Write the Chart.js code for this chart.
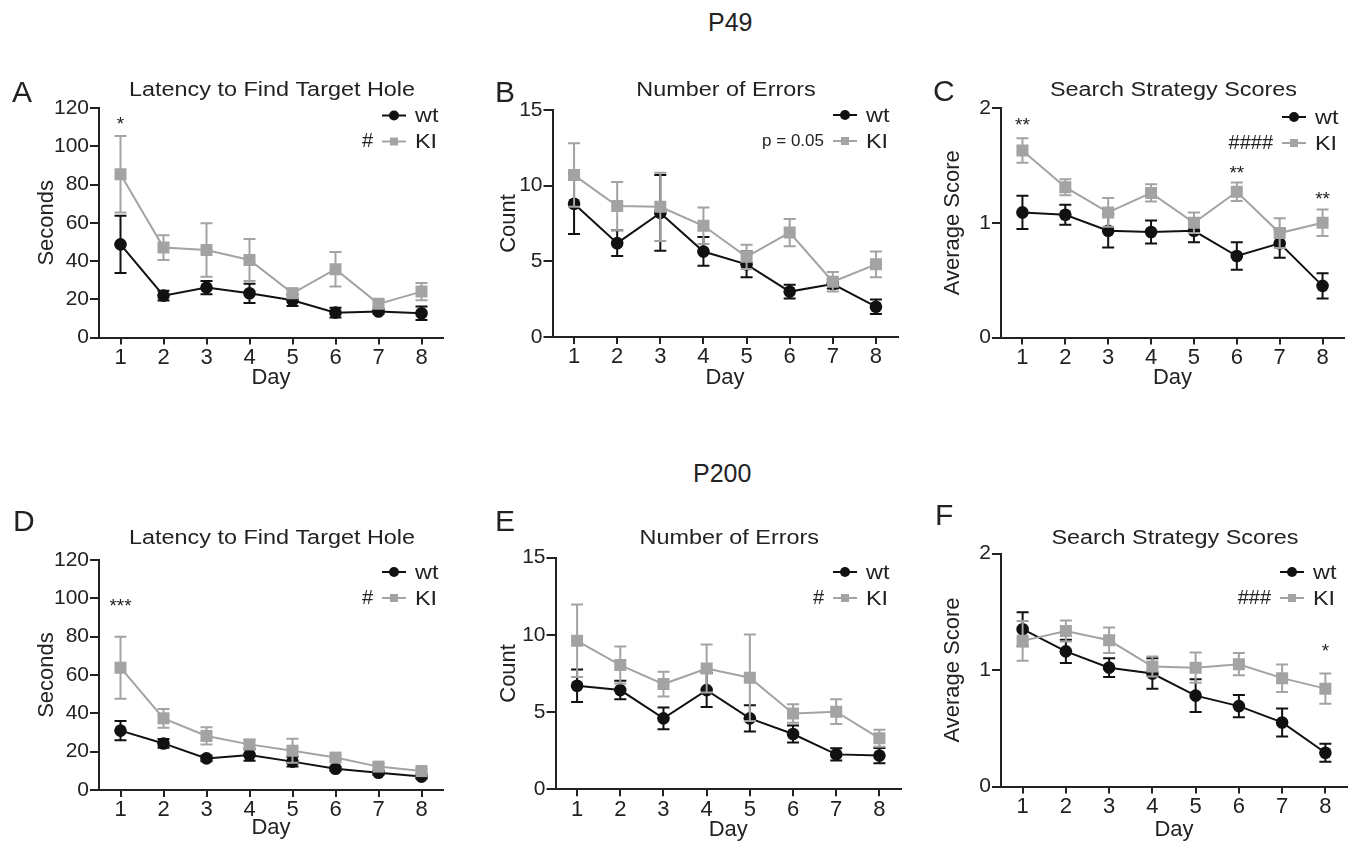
<!DOCTYPE html>
<html>
<head>
<meta charset="utf-8">
<title>Hole board — P49 / P200</title>
<script src="https://cdn.jsdelivr.net/npm/chart.js@4.4.1/dist/chart.umd.min.js"></script>
<style>
  html, body { margin: 0; padding: 0; background: #fff; }
  body { width: 1356px; height: 844px; position: relative; overflow: hidden;
         font-family: "Liberation Sans", Arial, sans-serif; color: #222; }
  canvas { position: absolute; }
  .age { position: absolute; font-size: 25px; line-height: 25px; color: #222; }
</style>
</head>
<body>
<div class="age" style="left:708px; top:10px">P49</div>
<div class="age" style="left:693px; top:461px">P200</div>

<canvas id="pA" width="460" height="340" style="left:0px; top:60px"></canvas>
<canvas id="pB" width="450" height="340" style="left:460px; top:60px"></canvas>
<canvas id="pC" width="456" height="340" style="left:900px; top:60px"></canvas>
<canvas id="pD" width="460" height="349" style="left:0px; top:495px"></canvas>
<canvas id="pE" width="450" height="349" style="left:460px; top:495px"></canvas>
<canvas id="pF" width="456" height="349" style="left:900px; top:495px"></canvas>

<script>
"use strict";

// --------------------------------------------------------------------- //
// Data (mean and SEM per day)                                           //
// --------------------------------------------------------------------- //

const days = [1, 2, 3, 4, 5, 6, 7, 8];

// A: P49 latency (s)
const p49LatWt    = [48.7, 21.9, 26.1, 23.1, 19.5, 13.0, 13.6, 12.7];
const p49LatWtSem = [15, 2.5, 3.5, 5, 3, 2.5, 1, 3.5];
const p49LatKi    = [85.4, 47.0, 45.7, 40.5, 23.1, 35.7, 17.6, 24.0];
const p49LatKiSem = [20, 6.5, 14, 11, 2.5, 9, 2, 4.5];

// B: P49 errors
const p49ErrWt    = [8.8, 6.2, 8.2, 5.65, 4.8, 3.0, 3.5, 2.0];
const p49ErrWtSem = [2.0, 0.85, 2.5, 0.95, 0.85, 0.45, 0.3, 0.48];
const p49ErrKi    = [10.7, 8.65, 8.6, 7.35, 5.3, 6.9, 3.65, 4.8];
const p49ErrKiSem = [2.1, 1.6, 2.25, 1.2, 0.8, 0.9, 0.65, 0.85];

// C: P49 search strategy score
const p49ScoreWt    = [1.09, 1.07, 0.93, 0.92, 0.93, 0.71, 0.82, 0.45];
const p49ScoreWtSem = [0.145, 0.087, 0.145, 0.1, 0.1, 0.12, 0.125, 0.11];
const p49ScoreKi    = [1.63, 1.31, 1.09, 1.26, 1.0, 1.27, 0.91, 1.0];
const p49ScoreKiSem = [0.107, 0.07, 0.125, 0.075, 0.09, 0.08, 0.13, 0.116];

// D: P200 latency (s)
const p200LatWt    = [31, 24.3, 16.5, 18.3, 14.8, 11.1, 9, 7];
const p200LatWtSem = [5, 2.3, 1.5, 3, 2.6, 1, 1, 1];
const p200LatKi    = [63.8, 37.4, 28.2, 23.8, 20.5, 16.9, 12.2, 9.9];
const p200LatKiSem = [16.2, 4.9, 4.5, 2.2, 6.3, 1.5, 1.5, 1.2];

// E: P200 errors
const p200ErrWt    = [6.7, 6.42, 4.59, 6.42, 4.59, 3.58, 2.26, 2.18];
const p200ErrWtSem = [1.05, 0.6, 0.7, 1.1, 0.85, 0.55, 0.4, 0.5];
const p200ErrKi    = [9.61, 8.04, 6.81, 7.82, 7.22, 4.91, 5.02, 3.3];
const p200ErrKiSem = [2.35, 1.2, 0.8, 1.55, 2.8, 0.6, 0.8, 0.55];

// F: P200 search strategy score
const p200ScoreWt    = [1.35, 1.16, 1.02, 0.97, 0.78, 0.69, 0.55, 0.29];
const p200ScoreWtSem = [0.146, 0.1, 0.08, 0.13, 0.14, 0.095, 0.12, 0.077];
const p200ScoreKi    = [1.25, 1.335, 1.255, 1.03, 1.02, 1.05, 0.93, 0.84];
const p200ScoreKiSem = [0.17, 0.09, 0.11, 0.085, 0.13, 0.095, 0.118, 0.13];

// y ticks
const latencyTicks = [0, 20, 40, 60, 80, 100, 120];
const errorTicks   = [0, 5, 10, 15];
const scoreTicks   = [0, 1, 2];

// post-hoc markers: day, height (data units), label
const starsA = [{ day: 1, y: 113.5, text: "*" }];
const starsC = [{ day: 1, y: 1.89, text: "**" }, { day: 6, y: 1.47, text: "**" }, { day: 8, y: 1.24, text: "**" }];
const starsD = [{ day: 1, y: 98.3, text: "***" }];
const starsF = [{ day: 8, y: 1.2, text: "*" }];

// --------------------------------------------------------------------- //
// Style                                                                 //
// --------------------------------------------------------------------- //

const FONT = '"Liberation Sans", Arial, sans-serif';
const INK = "#222";
const WT_COLOR = "#111";
const KI_COLOR = "#a3a3a3";
const WIDE = 1.17; // titles and legend labels are set a little wider than the font

// page-pixel geometry of each panel: canvas box, plot area, label spots
const GEO = {
  A: { canvas: [0, 60, 460, 340],    area: [99, 108, 443, 337.5],      yTitleX: 47,  xTitleY: 378, letter: [12, 102],  titleY: 90,  legend: [382, 115.5] },
  B: { canvas: [460, 60, 450, 340],  area: [552.5, 110, 897.5, 337],   yTitleX: 509, xTitleY: 378, letter: [495, 102], titleY: 90,  legend: [833, 115] },
  C: { canvas: [900, 60, 456, 340],  area: [1001, 108, 1344, 337.5],   yTitleX: 953, xTitleY: 378, letter: [933, 101], titleY: 90,  legend: [1282, 117] },
  D: { canvas: [0, 495, 460, 349],   area: [99, 560, 443, 790],        yTitleX: 47,  xTitleY: 828, letter: [13, 531],  titleY: 538, legend: [382, 572] },
  E: { canvas: [460, 495, 450, 349], area: [555.5, 557.5, 901, 789.3], yTitleX: 509, xTitleY: 830, letter: [495, 531], titleY: 538, legend: [833, 572] },
  F: { canvas: [900, 495, 456, 349], area: [1001, 553.5, 1347, 786.5], yTitleX: 953, xTitleY: 830, letter: [935, 525], titleY: 538, legend: [1280, 572] },
};

const pts = (vals) => days.map((d, i) => ({ x: d, y: vals[i] }));

// --------------------------------------------------------------------- //
// Plugins                                                               //
// --------------------------------------------------------------------- //

const errorBars = {
  id: "errorBars",
  beforeDatasetDraw(chart, args) {
    const ds = chart.data.datasets[args.index];
    if (!ds.sem) return;
    const y = chart.scales.y;
    const ctx = chart.ctx;
    ctx.save();
    ctx.strokeStyle = ds.borderColor;
    ctx.lineWidth = 2;
    args.meta.data.forEach((pt, i) => {
      const v = ds.data[i].y;
      const e = ds.sem[i];
      const top = y.getPixelForValue(v + e);
      const bot = y.getPixelForValue(Math.max(0, v - e));
      ctx.beginPath();
      ctx.moveTo(pt.x, top); ctx.lineTo(pt.x, bot);
      ctx.moveTo(pt.x - 6, top); ctx.lineTo(pt.x + 6, top);
      ctx.moveTo(pt.x - 6, bot); ctx.lineTo(pt.x + 6, bot);
      ctx.stroke();
    });
    ctx.restore();
  },
};

// text drawn with a horizontal stretch
function wideText(ctx, text, x, y, align) {
  ctx.save();
  ctx.translate(x, y);
  ctx.scale(WIDE, 1);
  ctx.textAlign = align;
  ctx.fillText(text, 0, 0);
  ctx.restore();
}

function legendRow(ctx, x, y, color, shape, label) {
  ctx.strokeStyle = color;
  ctx.fillStyle = color;
  ctx.lineWidth = 2;
  ctx.beginPath();
  ctx.moveTo(x, y); ctx.lineTo(x + 24, y);
  ctx.stroke();
  ctx.beginPath();
  if (shape === "circle") ctx.arc(x + 12, y, 5, 0, Math.PI * 2);
  else ctx.rect(x + 8, y - 4, 8, 8);
  ctx.fill();
  ctx.fillStyle = INK;
  ctx.font = `20px ${FONT}`;
  ctx.textBaseline = "middle";
  wideText(ctx, label, x + 33, y + 1, "left");
}

function decor(p) {
  const [cx, cy] = p.geo.canvas;
  return {
    id: "decor",
    afterDraw(chart) {
      const ctx = chart.ctx;
      const area = chart.chartArea;
      ctx.save();
      // panel letter
      ctx.fillStyle = INK;
      ctx.font = `30px ${FONT}`;
      ctx.textAlign = "left";
      ctx.textBaseline = "alphabetic";
      ctx.fillText(p.letter, p.geo.letter[0] - cx, p.geo.letter[1] - cy);
      // title
      ctx.font = `20px ${FONT}`;
      ctx.textBaseline = "middle";
      wideText(ctx, p.title, (area.left + area.right) / 2 + 1, p.geo.titleY - cy, "center");
      // legend
      const lx = p.geo.legend[0] - cx;
      const ly = p.geo.legend[1] - cy;
      legendRow(ctx, lx, ly, WT_COLOR, "circle", "wt");
      legendRow(ctx, lx, ly + 26, KI_COLOR, "rect", "KI");
      ctx.fillStyle = INK;
      ctx.font = `${p.noteSize}px ${FONT}`;
      ctx.textAlign = "right";
      ctx.textBaseline = "middle";
      ctx.fillText(p.note, lx - 9, ly + 26);
      // asterisks
      ctx.font = `19px ${FONT}`;
      ctx.textAlign = "center";
      ctx.textBaseline = "alphabetic";
      for (const s of p.stars) {
        const x = chart.scales.x.getPixelForValue(s.day);
        const y = chart.scales.y.getPixelForValue(s.y);
        ctx.fillText(s.text, x, y + 10);
      }
      ctx.restore();
    },
  };
}

// --------------------------------------------------------------------- //
// Panels                                                                //
// --------------------------------------------------------------------- //

function makePanel(canvasId, p) {
  const [cLeft, cTop, cW, cH] = p.geo.canvas;
  const [aLeft, aTop, aRight, aBottom] = p.geo.area;
  const half = 22 * 1.2 / 2;

  return new Chart(document.getElementById(canvasId), {
    type: "line",
    data: {
      datasets: [
        {
          label: "wt", data: pts(p.wt), sem: p.wtSem,
          borderColor: WT_COLOR, backgroundColor: WT_COLOR, borderWidth: 2,
          pointStyle: "circle", pointRadius: 6.3, pointBorderWidth: 0, tension: 0, order: 1,
        },
        {
          label: "KI", data: pts(p.ki), sem: p.kiSem,
          borderColor: KI_COLOR, backgroundColor: KI_COLOR, borderWidth: 2,
          pointStyle: "rect", pointRadius: 8.5, pointBorderWidth: 0, tension: 0, order: 0,
        },
      ],
    },
    options: {
      responsive: false,
      animation: false,
      devicePixelRatio: 1,
      layout: { padding: { left: 0, top: aTop - cTop, right: cLeft + cW - aRight, bottom: 0 } },
      plugins: { legend: { display: false }, tooltip: { enabled: false }, title: { display: false } },
      scales: {
        x: {
          type: "linear", min: 0.5, max: 8.5,
          afterBuildTicks: (s) => { s.ticks = days.map((v) => ({ value: v })); },
          afterFit: (s) => { s.height = cTop + cH - aBottom; },
          border: { color: INK, width: 2 },
          grid: { drawOnChartArea: false, drawTicks: true, tickLength: 7, color: INK, lineWidth: 2 },
          ticks: { color: INK, font: { family: FONT, size: 22 }, padding: 0, maxRotation: 0, callback: (v) => String(v) },
          title: {
            display: true, text: "Day", color: INK, font: { family: FONT, size: 22 },
            padding: { top: 0, bottom: cTop + cH - p.geo.xTitleY - half },
          },
        },
        y: {
          min: 0, max: p.yTicks[p.yTicks.length - 1],
          afterBuildTicks: (s) => { s.ticks = p.yTicks.map((v) => ({ value: v })); },
          afterFit: (s) => { s.width = aLeft - cLeft; },
          border: { color: INK, width: 2 },
          grid: { drawOnChartArea: false, drawTicks: true, tickLength: 9, color: INK, lineWidth: 2 },
          ticks: { color: INK, font: { family: FONT, size: 21 }, padding: 1, callback: (v) => String(v) },
          title: {
            display: true, text: p.yTitle, color: INK, font: { family: FONT, size: 22 },
            padding: { top: p.geo.yTitleX - cLeft - half, bottom: 0 },
          },
        },
      },
    },
    plugins: [errorBars, decor(p)],
  });
}

makePanel("pA", {
  geo: GEO.A, letter: "A", title: "Latency to Find Target Hole", yTitle: "Seconds", yTicks: latencyTicks,
  wt: p49LatWt, wtSem: p49LatWtSem, ki: p49LatKi, kiSem: p49LatKiSem,
  note: "#", noteSize: 20, stars: starsA,
});
makePanel("pB", {
  geo: GEO.B, letter: "B", title: "Number of Errors", yTitle: "Count", yTicks: errorTicks,
  wt: p49ErrWt, wtSem: p49ErrWtSem, ki: p49ErrKi, kiSem: p49ErrKiSem,
  note: "p = 0.05", noteSize: 17, stars: [],
});
makePanel("pC", {
  geo: GEO.C, letter: "C", title: "Search Strategy Scores", yTitle: "Average Score", yTicks: scoreTicks,
  wt: p49ScoreWt, wtSem: p49ScoreWtSem, ki: p49ScoreKi, kiSem: p49ScoreKiSem,
  note: "####", noteSize: 20, stars: starsC,
});
makePanel("pD", {
  geo: GEO.D, letter: "D", title: "Latency to Find Target Hole", yTitle: "Seconds", yTicks: latencyTicks,
  wt: p200LatWt, wtSem: p200LatWtSem, ki: p200LatKi, kiSem: p200LatKiSem,
  note: "#", noteSize: 20, stars: starsD,
});
makePanel("pE", {
  geo: GEO.E, letter: "E", title: "Number of Errors", yTitle: "Count", yTicks: errorTicks,
  wt: p200ErrWt, wtSem: p200ErrWtSem, ki: p200ErrKi, kiSem: p200ErrKiSem,
  note: "#", noteSize: 20, stars: [],
});
makePanel("pF", {
  geo: GEO.F, letter: "F", title: "Search Strategy Scores", yTitle: "Average Score", yTicks: scoreTicks,
  wt: p200ScoreWt, wtSem: p200ScoreWtSem, ki: p200ScoreKi, kiSem: p200ScoreKiSem,
  note: "###", noteSize: 20, stars: starsF,
});
</script>
</body>
</html>
